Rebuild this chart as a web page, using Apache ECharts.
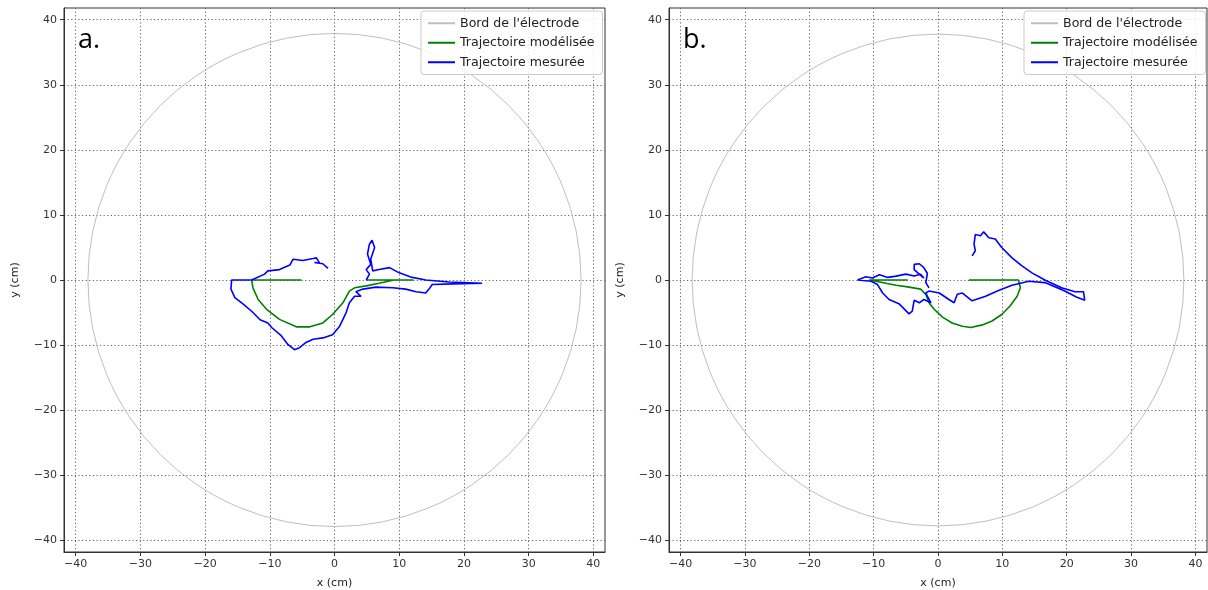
<!DOCTYPE html>
<html><head><meta charset="utf-8">
<script src="https://cdn.jsdelivr.net/npm/echarts@6/dist/echarts.min.js"></script>
<style>html,body{margin:0;padding:0;background:#fff}#c{width:1208px;height:590px}</style>
</head><body><div id="c"></div>
<script>
// ---- data ----
const tickValues = [-40, -30, -20, -10, 0, 10, 20, 30, 40];
const axisExtent = [-41.8, 41.8];
const seriesNames = ["Bord de l'électrode", "Trajectoire modélisée", "Trajectoire mesurée"];
const panelLabels = ["a.", "b."];
const electrode = [[0, 0, 38]]; // centre x, centre y, radius (cm)

const modelA = [[-5.1,0],[-12.8,0],[-12.6,-1.2],[-11.8,-3.0],[-10.5,-4.5],[-8.5,-6.05],[-5.9,-7.2],[-3.8,-7.2],[-1.8,-6.6],[-0.3,-5.3],[1.3,-3.5],[2.3,-1.7],[3.1,-1.2],[4.9,-0.9],[6.9,-0.5],[9.2,0],[12.2,0],[4.9,0]];
const measuredA = [[4.9,0],[5.4,0.9],[4.9,1.6],[5.6,2.4],[5.1,4.0],[5.4,5.5],[5.8,6.1],[6.2,5.0],[5.6,3.2],[5.9,1.4],[6.9,1.6],[8.5,1.9],[10.0,1.1],[12.0,0.4],[14.1,0.0],[17.7,-0.3],[22.8,-0.5],[18.2,-0.6],[15.1,-0.7],[14.6,-1.4],[14.1,-2.0],[12.6,-1.8],[11.0,-1.4],[9.0,-1.2],[6.4,-1.1],[4.4,-1.4],[3.3,-1.8],[4.1,-2.5],[3.1,-2.5],[2.3,-3.5],[1.8,-5.0],[0.8,-7.1],[-0.3,-8.4],[-1.8,-8.9],[-3.3,-9.1],[-4.4,-9.6],[-5.4,-10.4],[-6.2,-10.7],[-7.2,-9.9],[-8.2,-8.6],[-9.7,-7.3],[-10.3,-6.6],[-11.5,-6.1],[-12.8,-4.8],[-14.1,-3.7],[-15.4,-2.7],[-16.0,-1.4],[-15.9,0.0],[-14.1,0.0],[-12.8,0.0],[-10.8,0.9],[-10.3,1.4],[-8.5,1.6],[-6.9,2.3],[-6.4,3.2],[-4.9,3.0],[-3.3,3.3],[-2.8,3.4],[-2.3,2.6],[-3.1,2.7],[-1.8,2.5],[-1.0,1.8]];
const modelB = [[4.8,0],[12.5,0],[12.8,-1.2],[12.3,-2.5],[11.2,-4.0],[9.9,-5.3],[8.4,-6.3],[6.9,-6.9],[5.1,-7.3],[3.8,-7.1],[2.2,-6.6],[0.7,-5.7],[-0.6,-4.5],[-1.4,-3.5],[-1.9,-2.2],[-2.7,-1.4],[-4.5,-1.1],[-6.5,-0.8],[-8.1,-0.5],[-9.6,-0.2],[-10.7,0],[-4.7,0]];
const measuredB = [[5.3,3.7],[5.8,4.5],[5.6,5.5],[5.8,7.0],[6.6,6.8],[7.1,7.4],[7.9,6.5],[8.9,6.3],[9.9,5.0],[11.5,3.4],[13.0,2.2],[14.6,1.1],[16.6,0.0],[19.2,-1.2],[21.3,-1.8],[22.6,-1.8],[22.8,-3.1],[21.5,-2.6],[19.7,-1.7],[16.6,-0.4],[14.1,-0.2],[11.5,-0.8],[9.4,-1.6],[7.4,-2.5],[5.3,-3.2],[3.8,-2.0],[3.0,-2.2],[2.5,-3.5],[1.7,-3.0],[0.2,-2.0],[-1.4,-1.7],[-1.9,-2.0],[-1.1,-3.5],[-2.2,-3.0],[-2.9,-3.5],[-3.7,-3.1],[-4.0,-4.8],[-4.5,-5.2],[-6.0,-3.7],[-7.6,-3.0],[-8.6,-2.0],[-9.4,-0.7],[-10.4,-0.2],[-12.5,0.0],[-11.2,0.5],[-10.2,0.3],[-9.1,0.8],[-7.8,0.4],[-6.5,0.6],[-5.0,0.9],[-3.7,0.6],[-2.7,0.9],[-2.2,0.3],[-3.7,1.6],[-3.7,2.4],[-2.9,2.5],[-2.2,1.9],[-1.65,1.0],[-1.9,-0.4],[-1.4,-1.2]];

// ---- styles ----
const colors = ['#bfbfbf', '#008000', '#0000ff'];
const FONT = 'DejaVu Sans';
const chart = echarts.init(document.getElementById('c'), null, {renderer: 'canvas'});
const fmt = v => String(v).replace('-', '\u2212');

function axis(gridIndex, isX) {
  return {
    type: 'value', gridIndex, min: axisExtent[0], max: axisExtent[1],
    name: isX ? 'x (cm)' : 'y (cm)', nameLocation: 'middle',
    nameGap: isX ? 26 : 43, nameRotate: isX ? 0 : 90,
    nameTextStyle: {fontSize: 11, color: '#222', fontFamily: FONT},
    axisLine: {show: true, onZero: false, lineStyle: {color: '#333', width: 1}},
    axisTick: {show: true, length: 4, customValues: tickValues, lineStyle: {color: '#333'}},
    axisLabel: {customValues: tickValues, fontSize: 11, color: '#333', margin: 7, fontFamily: FONT, formatter: fmt},
    splitLine: {show: true, lineStyle: {type: [1.2, 2.4], color: '#666', width: 1}}
  };
}

function circleItem(params, api) {
  const c = api.coord([api.value(0), api.value(1)]);
  const s = api.size([api.value(2), api.value(2)]);
  return {type: 'circle', shape: {cx: c[0], cy: c[1], r: (s[0] + s[1]) / 2},
          style: {fill: 'none', stroke: colors[0], lineWidth: 1}};
}

const panels = [[modelA, measuredA], [modelB, measuredB]];
const series = [];
panels.forEach((p, i) => {
  series.push({name: seriesNames[0], type: 'custom', xAxisIndex: i, yAxisIndex: i,
    data: electrode, renderItem: circleItem, itemStyle: {color: colors[0]}, silent: true, z: 2});
  series.push({name: seriesNames[1], type: 'line', xAxisIndex: i, yAxisIndex: i, data: p[0],
    showSymbol: false, symbol: 'none', lineStyle: {color: colors[1], width: 1.6}, itemStyle: {color: colors[1]}, z: 3});
  series.push({name: seriesNames[2], type: 'line', xAxisIndex: i, yAxisIndex: i, data: p[1],
    showSymbol: false, symbol: 'none', lineStyle: {color: colors[2], width: 1.6}, itemStyle: {color: colors[2]}, z: 4});
});

function legend(left) {
  return {
    left, top: 11, orient: 'vertical', icon: 'rect', itemWidth: 27, itemHeight: 2, itemGap: 5,
    padding: [5, 8, 5, 7], backgroundColor: 'rgba(255,255,255,0.85)', borderColor: '#cccccc',
    borderWidth: 1, borderRadius: 3, selectedMode: false,
    textStyle: {fontSize: 12.6, color: '#222', fontFamily: FONT, lineHeight: 14.5},
    data: seriesNames.map((n, k) => ({name: n, itemStyle: {color: colors[k]}}))
  };
}

chart.setOption({
  animation: false,
  backgroundColor: '#fff',
  title: [
    {text: panelLabels[0], left: 73, top: 22, textStyle: {fontSize: 27, fontWeight: 'normal', color: '#000', fontFamily: 'Open Sans'}},
    {text: panelLabels[1], left: 678, top: 22, textStyle: {fontSize: 27, fontWeight: 'normal', color: '#000', fontFamily: 'Open Sans'}}
  ],
  grid: [
    {left: 64, top: 8, width: 541, height: 544, outerBoundsMode: 'none', containLabel: false, show: true, borderColor: '#333', borderWidth: 1, backgroundColor: 'transparent'},
    {left: 669, top: 8, width: 538, height: 544, outerBoundsMode: 'none', containLabel: false, show: true, borderColor: '#333', borderWidth: 1, backgroundColor: 'transparent'}
  ],
  xAxis: [axis(0, true), axis(1, true)],
  yAxis: [axis(0, false), axis(1, false)],
  legend: [legend(421), legend(1024)],
  series
});
</script></body></html>
